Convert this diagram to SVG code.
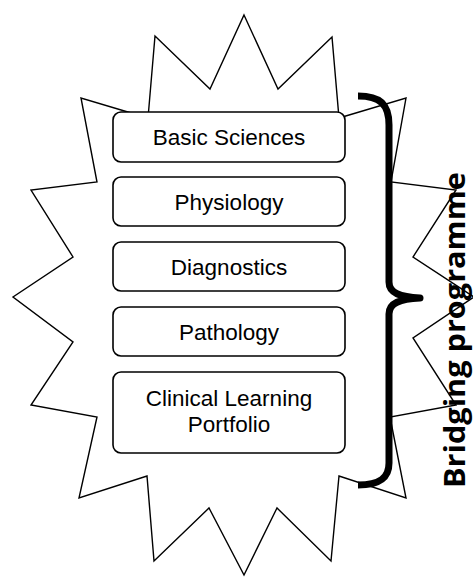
<svg xmlns="http://www.w3.org/2000/svg" width="473" height="577" viewBox="0 0 473 577">
  <style>
    .star { fill: #fff; stroke: #000; stroke-width: 1.4; stroke-linejoin: miter; }
    .box { fill: #fff; stroke: #000; stroke-width: 1.6; }
    .lbl { font-family: "Liberation Sans", Arial, sans-serif; font-size: 22.5px; fill: #000; text-anchor: middle; }
    .brace { fill: none; stroke: #000; stroke-width: 7; stroke-linecap: butt; stroke-linejoin: round; }
    .side { font-family: "Open Sans", "Liberation Sans", sans-serif; font-weight: bold; font-size: 29px; fill: #000; }
  </style>
  <rect width="473" height="577" fill="#fff"/>

  <!-- starburst outline behind the module list -->
  <g id="starburst">
    <polygon class="star" points="244,15 278,89 332,37 339,118 406,98 391,182 456,190 413,257 474,297 413,338 456,405 390,417 406,498 339,476 331,561 277,508 244,575 209,508 154,561 147,476 79,498 97,417 31,405 73,342 13,297 73,257 31,190 97,182 81,98 148,118 155,36 210,89"/>
  </g>

  <!-- modules -->
  <g id="basic-sciences">
    <rect class="box" x="113" y="112" width="232" height="50" rx="8"/>
    <text class="lbl" x="229" y="145">Basic Sciences</text>
  </g>
  <g id="physiology">
    <rect class="box" x="113" y="177" width="232" height="49" rx="8"/>
    <text class="lbl" x="229" y="209.5">Physiology</text>
  </g>
  <g id="diagnostics">
    <rect class="box" x="113" y="242" width="232" height="49" rx="8"/>
    <text class="lbl" x="229" y="274.5">Diagnostics</text>
  </g>
  <g id="pathology">
    <rect class="box" x="113" y="307" width="232" height="49" rx="8"/>
    <text class="lbl" x="229" y="339.5">Pathology</text>
  </g>
  <g id="clinical-learning-portfolio">
    <rect class="box" x="113" y="372" width="232" height="81" rx="8"/>
    <text class="lbl" x="229" y="406">Clinical Learning</text>
    <text class="lbl" x="229" y="432">Portfolio</text>
  </g>

  <!-- grouping brace and its label -->
  <g id="connectors">
    <path class="brace" d="M 358,96 C 380,96 389,104 389,125 L 389,282 C 389,293 400,297 420,298 C 400,299 389,303 389,314 L 389,463 C 389,478 380,485 358,485"/>
  </g>
  <g id="bridging-programme">
    <text class="side" transform="translate(465,488) rotate(-90)" textLength="316" lengthAdjust="spacingAndGlyphs">Bridging programme</text>
  </g>
</svg>
